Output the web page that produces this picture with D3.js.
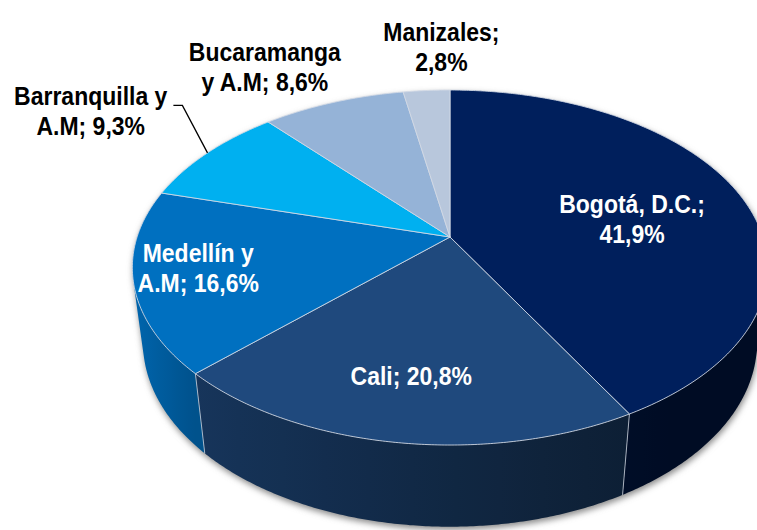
<!DOCTYPE html>
<html>
<head>
<meta charset="utf-8">
<script src="https://cdn.jsdelivr.net/npm/d3@7"></script>
<style>
  body { margin: 0; background: #fff; }
  text { font-family: "Liberation Sans", Arial, sans-serif; font-weight: bold; font-size: 23px; }
</style>
</head>
<body>
<div id="chart"></div>
<script>
// datos del gráfico
var ciudades = ["Bogotá, D.C.", "Cali", "Medellín y A.M", "Barranquilla y A.M", "Bucaramanga y A.M", "Manizales"];
var porcentajes = [41.9, 20.8, 16.6, 9.3, 8.6, 2.8];
var etiquetas = [
  ["Bogotá, D.C.;", "41,9%"],
  ["Cali; 20,8%"],
  ["Medellín y", "A.M; 16,6%"],
  ["Barranquilla y", "A.M; 9,3%"],
  ["Bucaramanga", "y A.M; 8,6%"],
  ["Manizales;", "2,8%"]
];
var colores = ["#001F5C", "#1F497D", "#0070C0", "#00B0F0", "#95B3D7", "#B8C7DC"];

// ubicación de las etiquetas: desplazamiento angular (grados) y radio relativo
var posEtiquetas = [
  {da: 5, r: 0.60}, {da: 0.4, r: 0.72}, {da: 1.5, r: 0.80},
  {da: 0, r: 1.55, guia: true}, {da: -5.5, r: 1.38}, {da: 3.6, r: 1.35}
];

var width = 757, height = 530;

// proyección en perspectiva del pastel 3D
var cx = 450, cy = 237;
var R = 0.206, D = 1, F = 1519, tilt = 33.4 * Math.PI / 180, h = 0.061;
var estira = 1.12; // alto del texto

function proj(a, r, y) {
  var t = a * Math.PI / 180;
  var x = R * r * Math.sin(t), z = -R * r * Math.cos(t);
  var yc = y * Math.cos(tilt) - z * Math.sin(tilt);
  var depth = D - y * Math.sin(tilt) - z * Math.cos(tilt);
  return [cx + F * x / depth, cy - F * yc / depth];
}

// rango visible del lateral
var visMin = Math.acos(-R / (D * Math.cos(tilt))) * 180 / Math.PI;
var visMax = 360 - visMin;

var toDeg = d3.scaleLinear().domain([0, 2 * Math.PI]).range([0, 360]);

var pie = d3.pie().sort(null).value(function(d) { return d; });
var arcs = pie(porcentajes).map(function(d, i) {
  return {i: i, a0: toDeg(d.startAngle), a1: toDeg(d.endAngle), color: colores[i]};
});

function muestras(a0, a1) {
  var pts = d3.range(a0, a1, 0.5);
  pts.push(a1);
  return pts;
}

var line = d3.line();

var svg = d3.select("#chart").append("svg")
  .attr("width", width)
  .attr("height", height);

var defs = svg.append("defs");
defs.append("filter")
  .attr("id", "sombra")
  .attr("x", "-20%").attr("y", "-20%").attr("width", "140%").attr("height", "150%")
  .append("feGaussianBlur").attr("stdDeviation", 3);

// sombra
var gs = svg.append("g").attr("filter", "url(#sombra)").attr("transform", "translate(1,3)");
gs.append("path")
  .attr("d", line(muestras(0, 360).map(function(a) { return proj(a, 1, 0); })) + "Z")
  .attr("fill", "#8a8a8a");
gs.append("path")
  .attr("d", line(muestras(visMin, visMax).map(function(a) { return proj(a, 1, 0); })
    .concat(muestras(visMin, visMax).reverse().map(function(a) { return proj(a, 1, -h); }))) + "Z")
  .attr("fill", "#8a8a8a");

// sombreado del lateral según el ángulo
function oscuro(a) {
  return Math.max(0.3, Math.min(2.6, 0.3 + (255 - a) * 0.02));
}

// laterales
arcs.forEach(function(s) {
  var a0 = Math.max(s.a0, visMin), a1 = Math.min(s.a1, visMax);
  if (a1 <= a0) return;
  var xa = proj(a0, 1, 0)[0], xb = proj(a1, 1, 0)[0];
  var grad = defs.append("linearGradient")
    .attr("id", "lado" + s.i)
    .attr("gradientUnits", "userSpaceOnUse")
    .attr("x1", xa).attr("x2", xb).attr("y1", 0).attr("y2", 0);
  d3.range(0, 1.0001, 0.1).forEach(function(f) {
    var a = a0 + (a1 - a0) * f;
    grad.append("stop")
      .attr("offset", f)
      .attr("stop-color", d3.color(s.color).darker(oscuro(a)).formatHex());
  });
  var pts = muestras(a0, a1).map(function(a) { return proj(a, 1, 0); })
    .concat(muestras(a0, a1).reverse().map(function(a) { return proj(a, 1, -h); }));
  svg.append("path")
    .attr("d", line(pts) + "Z")
    .attr("fill", "url(#lado" + s.i + ")");
});

// aristas verticales entre porciones
arcs.forEach(function(s) {
  if (s.a0 > visMin && s.a0 < visMax) {
    svg.append("path")
      .attr("d", line([proj(s.a0, 1, 0), proj(s.a0, 1, -h)]))
      .attr("stroke", "#c8d0dc").attr("stroke-width", 1).attr("stroke-opacity", 0.8);
  }
});

// caras superiores
arcs.forEach(function(s) {
  var pts = [proj(0, 0, 0)].concat(muestras(s.a0, s.a1).map(function(a) { return proj(a, 1, 0); }));
  svg.append("path")
    .attr("d", line(pts) + "Z")
    .attr("fill", s.color)
    .attr("stroke", "#d4dbe6")
    .attr("stroke-opacity", 0.85)
    .attr("stroke-width", 1)
    .attr("stroke-linejoin", "round");
});

// etiquetas
arcs.forEach(function(s) {
  var p = posEtiquetas[s.i];
  var mid = (s.a0 + s.a1) / 2;
  var c = proj(mid + p.da, p.r, 0);
  var lineas = etiquetas[s.i];
  var base = -(lineas.length - 1) * 15 + 8;
  var t = svg.append("text")
    .attr("text-anchor", "middle")
    .attr("transform", "translate(" + c[0] + "," + c[1] + ") scale(1," + estira + ")")
    .attr("fill", p.r > 1 ? "#000" : "#fff");
  lineas.forEach(function(l, k) {
    t.append("tspan").attr("x", 0).attr("y", (base + k * 30) / estira).text(l);
  });
  if (p.guia) {
    var w = t.select("tspan").node().getComputedTextLength();
    var x0 = c[0] + w / 2 + 6;
    var fin = proj(mid, 1.0, 0);
    svg.append("path")
      .attr("d", line([[x0, c[1] + base], [x0 + 9, c[1] + base], fin]))
      .attr("fill", "none")
      .attr("stroke", "#000")
      .attr("stroke-width", 1.3);
  }
});
</script>
</body>
</html>
